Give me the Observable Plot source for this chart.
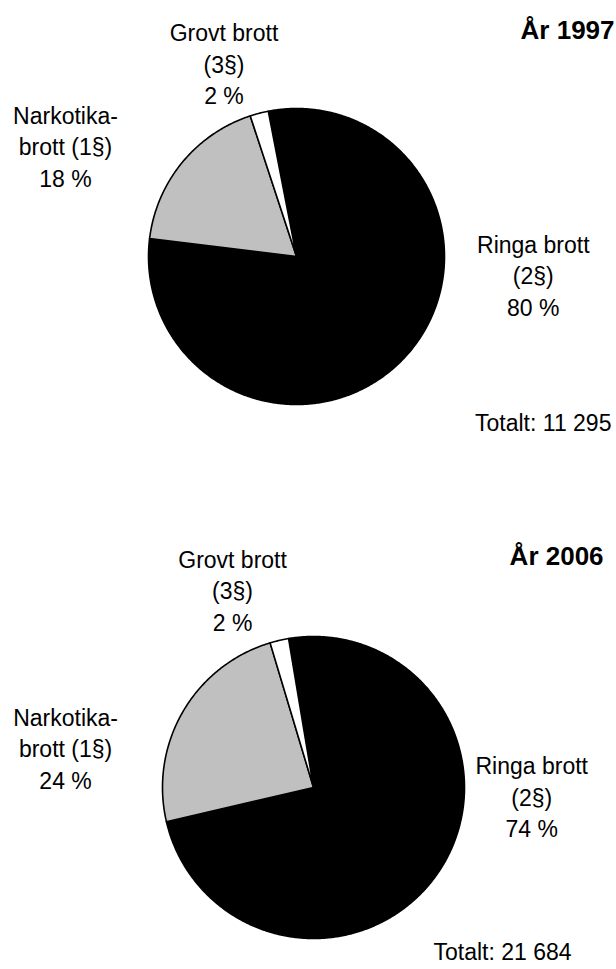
<!DOCTYPE html>
<html><head><meta charset="utf-8">
<script src="https://cdn.jsdelivr.net/npm/d3@7"></script>
<script src="https://cdn.jsdelivr.net/npm/@observablehq/plot@0.6"></script>
<style>body{margin:0;background:#fff;} #chart svg{display:block;overflow:visible;}</style>
</head><body><div id="chart"></div>
<script>
// ---- data ----
const categories = ["Ringa brott (2§)", "Narkotikabrott (1§)", "Grovt brott (3§)"];
const years = ["1997", "2006"];
const shares1997 = [80, 18, 2];
const shares2006 = [74, 24, 2];
const totals = ["11 295", "21 684"];
const labelLines = ["Ringa brott\n(2§)", "Narkotika-\nbrott (1§)", "Grovt brott\n(3§)"];
const sliceColors = ["#000000", "#c0c0c0", "#ffffff"];

// ---- layout (positions in pie-radius units relative to the pie centre) ----
const layouts = [
  {height: 490, cx: 296, cy: 256, r: 148, startDeg: -11,
   labels: [[1.60, -0.12], [-1.561, 0.752], [-0.490, 1.308]],
   total: [2.128, -1.13, "end"], title: [2.149, 1.527]},
  {height: 479, cx: 313, cy: 297, r: 151, startDeg: -9.5,
   labels: [[1.445, -0.055], [-1.642, 0.268], [-0.536, 1.315]],
   total: [1.252, -1.095, "middle"], title: [1.921, 1.530]}
];

function slicePoints(values, startDeg) {
  const s = startDeg * Math.PI / 180;
  const arcs = d3.pie().sort(null).startAngle(s).endAngle(s + 2 * Math.PI)(values);
  const pts = [];
  arcs.forEach((a, i) => {
    const cat = categories[i];
    pts.push({cat, x: 0, y: 0});
    const n = Math.max(2, Math.ceil((a.endAngle - a.startAngle) / (Math.PI / 360)));
    for (let k = 0; k <= n; k++) {
      const t = a.startAngle + (a.endAngle - a.startAngle) * k / n;
      pts.push({cat, x: Math.sin(t), y: Math.cos(t)});
    }
  });
  return pts;
}

const W = 616;
const font = "'Liberation Sans', Arial, sans-serif";
[shares1997, shares2006].forEach((shares, yi) => {
  const L = layouts[yi];
  const pts = slicePoints(shares, L.startDeg);
  const labels = categories.map((c, i) => ({
    x: L.labels[i][0], y: L.labels[i][1],
    text: labelLines[i] + "\n" + shares[i] + " %"
  }));
  const chart = Plot.plot({
    width: W, height: L.height, margin: 0,
    x: {domain: [-L.cx / L.r, (W - L.cx) / L.r], axis: null},
    y: {domain: [(L.cy - L.height) / L.r, L.cy / L.r], axis: null},
    color: {domain: categories, range: sliceColors},
    style: {fontFamily: font, background: "#fff", overflow: "visible"},
    marks: [
      Plot.line(pts, {x: "x", y: "y", z: "cat", fill: "cat", stroke: "#000",
        strokeWidth: 1.6, curve: "linear-closed", strokeLinejoin: "round"}),
      Plot.text(labels, {x: "x", y: "y", text: "text", fontSize: 23,
        lineHeight: 1.37, fill: "#000"}),
      Plot.text([{x: L.total[0], y: L.total[1], text: "Totalt: " + totals[yi]}],
        {x: "x", y: "y", text: "text", fontSize: 23, textAnchor: L.total[2], fill: "#000"}),
      Plot.text([{x: L.title[0], y: L.title[1], text: "År " + years[yi]}],
        {x: "x", y: "y", text: "text", fontSize: 26, fontWeight: "bold",
         textAnchor: "end", fill: "#000"})
    ]
  });
  document.getElementById("chart").appendChild(chart);
});
</script>
</body></html>
